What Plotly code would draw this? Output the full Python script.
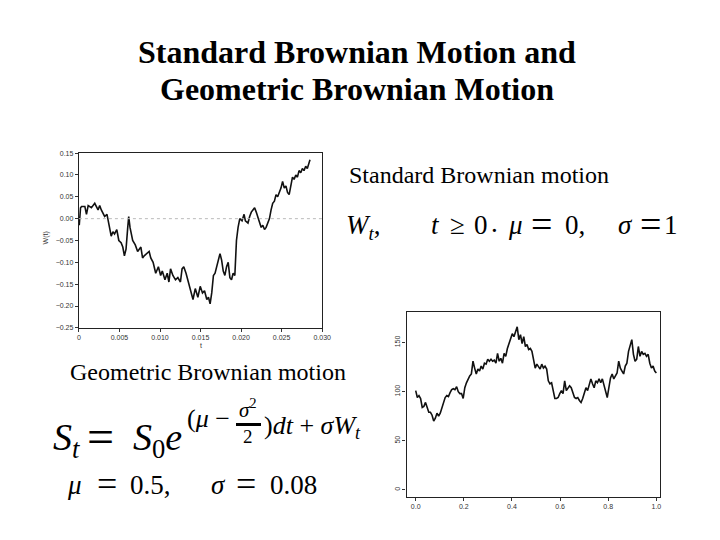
import plotly.graph_objects as go

# ---------------- data ----------------
# Standard Brownian motion W(t)
t_std = [0.00004, 0.0002, 0.00033, 0.00073, 0.00093, 0.00114, 0.00154, 0.00195, 0.00236, 0.00256,
         0.00276, 0.00317, 0.00346, 0.00378, 0.00398, 0.00419, 0.00439, 0.00467, 0.00492, 0.0052,
         0.00541, 0.00561, 0.00581, 0.00602, 0.00614, 0.0063, 0.00663, 0.00695, 0.00724, 0.00764,
         0.00785, 0.00805, 0.00833, 0.00866, 0.00886, 0.00915, 0.00947, 0.0098, 0.01008, 0.01028,
         0.01061, 0.01089, 0.0111, 0.0113, 0.01159, 0.01191, 0.0122, 0.01252, 0.01272, 0.01293,
         0.01321, 0.01354, 0.01382, 0.01407, 0.01435, 0.01467, 0.01496, 0.01524, 0.01549, 0.01577,
         0.01598, 0.01618, 0.01638, 0.01659, 0.01679, 0.01699, 0.0172, 0.0174, 0.0176, 0.0178,
         0.018, 0.01821, 0.01841, 0.01862, 0.01882, 0.01902, 0.01923, 0.01943, 0.01963, 0.01984,
         0.02012, 0.02037, 0.02053, 0.02085, 0.02106, 0.02126, 0.02146, 0.02167, 0.02187, 0.02207,
         0.02228, 0.02248, 0.02268, 0.02289, 0.02309, 0.02329, 0.0235, 0.0237, 0.0239, 0.02411,
         0.02431, 0.02451, 0.02472, 0.02492, 0.02512, 0.02533, 0.02553, 0.02573, 0.02593, 0.02614,
         0.02634, 0.02654, 0.02675, 0.02695, 0.02715, 0.02736, 0.02756, 0.02776, 0.02797, 0.02817,
         0.02837, 0.0285]
w_std = [-0.015, 0.025, 0.028, 0.028, 0.010, 0.030, 0.025, 0.035, 0.020, 0.030,
         0.020, 0.005, 0.010, -0.020, -0.040, -0.030, -0.035, -0.025, -0.050, -0.055,
         -0.065, -0.085, -0.070, -0.020, 0.005, -0.020, -0.050, -0.060, -0.075, -0.065,
         -0.090, -0.085, -0.080, -0.075, -0.090, -0.100, -0.125, -0.110, -0.130, -0.120,
         -0.140, -0.125, -0.145, -0.115, -0.130, -0.140, -0.135, -0.145, -0.115, -0.110,
         -0.125, -0.150, -0.165, -0.185, -0.160, -0.180, -0.155, -0.170, -0.165, -0.185,
         -0.180, -0.195, -0.170, -0.130, -0.125, -0.110, -0.090, -0.080, -0.095, -0.120,
         -0.130, -0.110, -0.100, -0.135, -0.140, -0.125, -0.130, -0.050, -0.020, 0.000,
         -0.005, 0.010, -0.005, -0.010, 0.005, 0.015, 0.020, 0.025, 0.015, 0.005,
         -0.010, -0.020, -0.015, -0.025, -0.020, -0.010, 0.000, 0.020, 0.035, 0.040,
         0.055, 0.050, 0.060, 0.070, 0.085, 0.070, 0.075, 0.060, 0.055, 0.080,
         0.095, 0.090, 0.100, 0.095, 0.110, 0.105, 0.115, 0.110, 0.120, 0.115,
         0.125, 0.135]

# Geometric Brownian motion S(t), sampled on an even grid 0..1
s_geo = [101, 94, 96, 93, 84, 85, 89, 84, 79, 79,
         76, 70, 73, 78, 75, 78, 84, 89, 94, 96,
         95, 99, 102, 103, 102, 105, 100, 98, 98, 93,
         104, 109, 113, 116, 118, 131, 124, 118, 123, 121,
         126, 123, 129, 128, 133, 131, 133, 131, 132, 129,
         139, 131, 134, 129, 139, 136, 144, 149, 154, 159,
         156, 161, 166, 153, 158, 149, 156, 146, 148, 143,
         144, 141, 131, 124, 128, 126, 123, 128, 124, 126,
         123, 111, 108, 109, 99, 93, 93, 94, 98, 101,
         98, 111, 101, 103, 106, 104, 99, 94, 93, 94,
         91, 89, 93, 99, 104, 101, 106, 113, 108, 104,
         111, 109, 113, 109, 113, 106, 101, 94, 104, 114,
         118, 113, 116, 119, 131, 124, 121, 118, 126, 129,
         141, 148, 153, 138, 131, 133, 146, 136, 141, 138,
         139, 136, 138, 129, 124, 126, 121, 119]
t_geo = [i / (len(s_geo) - 1) for i in range(len(s_geo))]

std_xticks = [0, 0.005, 0.010, 0.015, 0.020, 0.025, 0.030]
std_xlabels = ["0", "0.005", "0.010", "0.015", "0.020", "0.025", "0.030"]
std_yticks = [0.15, 0.10, 0.05, 0.0, -0.05, -0.10, -0.15, -0.20, -0.25]
std_ylabels = ["0.15", "0.10", "0.05", "0.00", "\u22120.05", "\u22120.10", "\u22120.15", "\u22120.20", "\u22120.25"]
geo_xticks = [0.0, 0.2, 0.4, 0.6, 0.8, 1.0]
geo_xlabels = ["0.0", "0.2", "0.4", "0.6", "0.8", "1.0"]
geo_yticks = [0, 50, 100, 150]
geo_ylabels = ["0", "50", "100", "150"]

# ---------------- figure ----------------
W, H = 720, 540
OFF = 8  # the page body margin shifts the figure by 8 px
SERIF = "Liberation Serif"
SANS = "Liberation Sans"


def px(x):
    return (x - OFF) / W


def py(y):
    return 1 - (y - OFF) / H


fig = go.Figure()
fig.add_trace(go.Scatter(x=t_std, y=w_std, mode="lines",
                         line=dict(color="#111111", width=1.6), xaxis="x", yaxis="y",
                         showlegend=False, hoverinfo="skip"))
fig.add_trace(go.Scatter(x=t_geo, y=s_geo, mode="lines",
                         line=dict(color="#111111", width=1.6), xaxis="x2", yaxis="y2",
                         showlegend=False, hoverinfo="skip"))

tickfont = dict(family=SANS, size=7, color="#333333")
axis_common = dict(showgrid=False, zeroline=False, showline=True, mirror=True,
                   linecolor="#222222", linewidth=1.3, ticks="outside", ticklen=3,
                   tickcolor="#333333", tickfont=tickfont)

fig.update_layout(
    width=W, height=H, margin=dict(l=0, r=0, t=0, b=0),
    paper_bgcolor="white", plot_bgcolor="white", showlegend=False,
    xaxis=dict(domain=[px(78), px(325)], range=[0, 0.030], anchor="y",
               tickvals=std_xticks, ticktext=std_xlabels, **axis_common),
    yaxis=dict(domain=[py(328), py(151)], range=[-0.25, 0.15], anchor="x",
               tickvals=std_yticks, ticktext=std_ylabels, **axis_common),
    xaxis2=dict(domain=[px(410.7), px(668.3)], range=[-0.038, 1.016], anchor="y2",
                tickvals=geo_xticks, ticktext=geo_xlabels, **axis_common),
    yaxis2=dict(domain=[py(499), py(311.7)], range=[-7, 181.4], anchor="x2",
                tickvals=geo_yticks, ticktext=geo_ylabels, tickangle=-90, **axis_common),
)

# dotted zero reference line in the standard BM panel
fig.add_shape(type="line", xref="x domain", yref="y", x0=0, x1=1, y0=0, y1=0,
              line=dict(color="#bbbbbb", width=1, dash="dot"))

ann = []


def text(s, x, y, size, xanchor="center", yanchor="middle", family=SERIF, color="black", angle=0):
    ann.append(dict(text=s, x=px(x), y=py(y), xref="paper", yref="paper",
                    xanchor=xanchor, yanchor=yanchor, showarrow=False, textangle=angle,
                    font=dict(family=family, size=size, color=color)))


# Title
text("<b>Standard Brownian Motion and</b>", 360, 49, 32)
text("<b>Geometric Brownian Motion</b>", 360, 86, 32)

# Labels
text("Standard Brownian motion", 350, 173, 24, xanchor="left")
text("Geometric Brownian motion", 67, 373, 24, xanchor="left")

# axis titles of the scanned panels
text("W(t)", 45, 237, 7, family=SANS, color="#333333", angle=-90)
text("t", 202, 346, 7, family=SANS, color="#333333")

# Math line 1:  W_t,   t >= 0 . mu = 0,   sigma = 1
M = 27
text("<i>W</i><sub><i>t</i></sub>,", 347, 226, M, xanchor="left")
text("<i>t</i>", 433, 224, M, xanchor="left")
text("\u2265", 462, 224, M)
text("0", 486, 224, M)
text(".", 500, 222, M)
text("<i>\u03bc</i>", 521, 224, M)
text("=", 548, 223, 38)
text("0,", 570, 224, M, xanchor="left")
text("<i>\u03c3</i>", 633, 224, M)
text("=", 658, 223, 38)
text("1", 679, 224, M)

# Math: S_t = S_0 e^{(mu - sigma^2/2)dt + sigma W_t}
text("<i>S</i><sub><i>t</i></sub>", 50, 442, 38, xanchor="left")
text("=", 100, 438, 48)
text("<i>S</i><sub>0</sub><i>e</i>", 131, 442, 38, xanchor="left")
text("(<i>\u03bc</i> \u2212", 186, 420, 26, xanchor="left")
text("<i>\u03c3</i><sup>2</sup>", 250, 410, 21)
text("2", 250, 438, 19)
text(")<i>dt</i> + <i>\u03c3W</i><sub><i>t</i></sub>", 264, 428, 26, xanchor="left")
# fraction bar
ann.append(dict(text=" ", x=px(250.5), y=py(426), xref="paper", yref="paper",
                xanchor="center", yanchor="middle", showarrow=False,
                width=25, height=3, bgcolor="black", borderpad=0, borderwidth=0,
                font=dict(family=SERIF, size=2, color="black")))

# Math: mu = 0.5,   sigma = 0.08
text("<i>\u03bc</i>", 74, 487, M)
text("=", 106, 486, 36)
text("0.5,", 128, 487, M, xanchor="left")
text("<i>\u03c3</i>", 220, 487, M)
text("=", 248, 486, 36)
text("0.08", 270, 487, M, xanchor="left")

fig.update_layout(annotations=ann)
fig.write_html("out.html")
